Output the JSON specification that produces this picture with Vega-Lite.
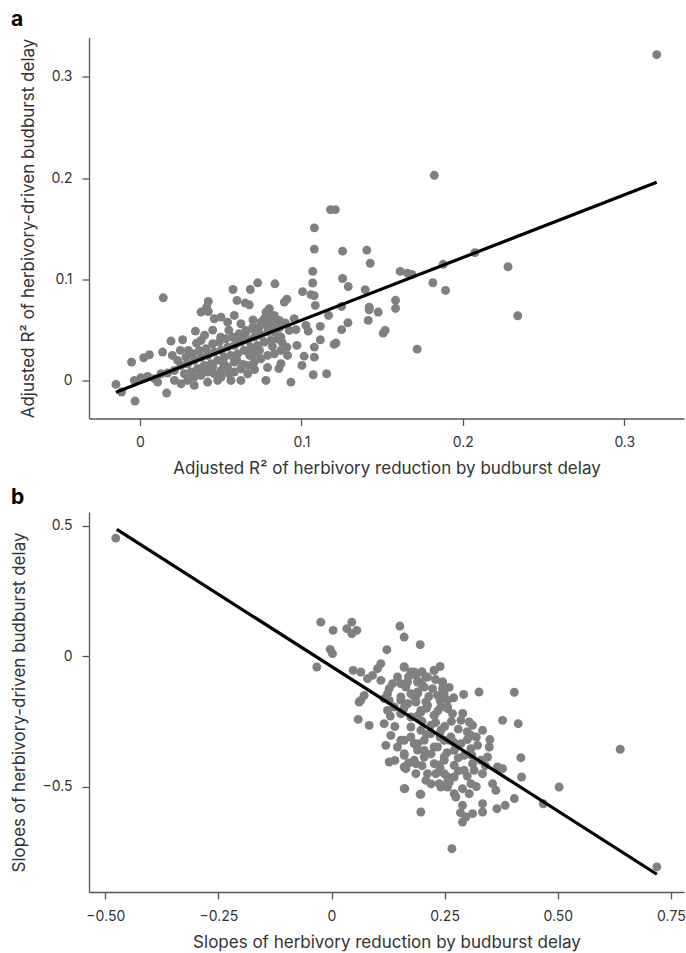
{
  "$schema": "https://vega.github.io/schema/vega-lite/v6.json",
  "background": "white",
  "padding": {"left": 10, "top": 8.5, "right": 2, "bottom": 2},
  "spacing": 10.5,
  "config": {
    "font": "Inter",
    "view": {"stroke": null},
    "axis": {
      "grid": false,
      "domainColor": "#555555",
      "domainWidth": 1.3,
      "tickColor": "#555555",
      "tickWidth": 1.3,
      "tickSize": 7,
      "labelFont": "Inter",
      "labelFontSize": 14,
      "labelColor": "#333333",
      "labelPadding": 10,
      "titleFont": "Inter",
      "titleFontSize": 17,
      "titleFontWeight": "normal",
      "titleColor": "#333333"
    },
    "axisX": {"titlePadding": 11},
    "axisY": {"titlePadding": 13},
    "title": {"font": "Inter", "fontSize": 21, "fontWeight": "bold", "color": "black", "anchor": "start", "frame": "group"}
  },
  "datasets": {
    "a_points": [
      {"x": -0.0149, "y": -0.0036}, {"x": -0.0114, "y": -0.0112}, {"x": -0.0031, "y": -0.0201}, {"x": -0.0052, "y": 0.0184},
      {"x": 0.0023, "y": 0.0227}, {"x": 0.0058, "y": 0.0257}, {"x": 0.0144, "y": 0.0819}, {"x": 0.014, "y": 0.0283},
      {"x": 0.0192, "y": 0.0392}, {"x": 0.0264, "y": 0.0405}, {"x": 0.0343, "y": 0.049}, {"x": 0.0378, "y": 0.0398},
      {"x": 0.0165, "y": -0.0122},
      {"x": 0.0423, "y": 0.0783}, {"x": 0.0413, "y": 0.0727}, {"x": 0.0423, "y": 0.0684}, {"x": 0.0576, "y": 0.0901},
      {"x": 0.0683, "y": 0.0901}, {"x": 0.0729, "y": 0.0967}, {"x": 0.0836, "y": 0.0957}, {"x": 0.0601, "y": 0.0793},
      {"x": 0.0652, "y": 0.0767}, {"x": 0.0677, "y": 0.075}, {"x": 0.0801, "y": 0.0711}, {"x": 0.078, "y": 0.0678},
      {"x": 0.0832, "y": 0.0645}, {"x": 0.0852, "y": 0.0595}, {"x": 0.077, "y": 0.0612},
      {"x": 0.0378, "y": 0.0678}, {"x": 0.046, "y": 0.0612}, {"x": 0.0502, "y": 0.0628}, {"x": 0.0543, "y": 0.0579},
      {"x": 0.0584, "y": 0.0645}, {"x": 0.0625, "y": 0.0563}, {"x": 0.0656, "y": 0.0497}, {"x": 0.0698, "y": 0.053},
      {"x": 0.0739, "y": 0.0464}, {"x": 0.0791, "y": 0.053}, {"x": 0.0832, "y": 0.048}, {"x": 0.0863, "y": 0.0431},
      {"x": 0.0213, "y": 0.0102}, {"x": 0.0254, "y": 0.0151}, {"x": 0.0295, "y": 0.0168}, {"x": 0.0336, "y": 0.0201},
      {"x": 0.0378, "y": 0.0234}, {"x": 0.0419, "y": 0.025}, {"x": 0.046, "y": 0.0283}, {"x": 0.0502, "y": 0.0299},
      {"x": 0.0543, "y": 0.0332}, {"x": 0.0584, "y": 0.0349}, {"x": 0.0625, "y": 0.0382}, {"x": 0.0667, "y": 0.0398},
      {"x": 0.0708, "y": 0.0431}, {"x": 0.0749, "y": 0.0447}, {"x": 0.0791, "y": 0.048}, {"x": 0.0832, "y": 0.0497},
      {"x": 0.0863, "y": 0.0523}, {"x": 0.0233, "y": 0.0201}, {"x": 0.0285, "y": 0.0234}, {"x": 0.0326, "y": 0.0266},
      {"x": 0.0367, "y": 0.0299}, {"x": 0.0409, "y": 0.0316}, {"x": 0.045, "y": 0.0365}, {"x": 0.0491, "y": 0.0382},
      {"x": 0.0533, "y": 0.0415}, {"x": 0.0574, "y": 0.0431}, {"x": 0.0615, "y": 0.0464}, {"x": 0.0656, "y": 0.048},
      {"x": 0.0698, "y": 0.0513}, {"x": 0.0739, "y": 0.053}, {"x": 0.078, "y": 0.0563}, {"x": 0.0821, "y": 0.0579},
      {"x": 0.0863, "y": 0.0595}, {"x": 0.0275, "y": 0.0069}, {"x": 0.0316, "y": 0.0086}, {"x": 0.0357, "y": 0.0118},
      {"x": 0.0398, "y": 0.0151}, {"x": 0.044, "y": 0.0168}, {"x": 0.0481, "y": 0.0201}, {"x": 0.0522, "y": 0.0234},
      {"x": 0.0563, "y": 0.025}, {"x": 0.0605, "y": 0.0266}, {"x": 0.0646, "y": 0.0299}, {"x": 0.0687, "y": 0.0332},
      {"x": 0.0729, "y": 0.0349}, {"x": 0.077, "y": 0.0382}, {"x": 0.0811, "y": 0.0398}, {"x": 0.0852, "y": 0.0415},
      {"x": -0.0035, "y": 0.0003}, {"x": 0.0006, "y": 0.003}, {"x": 0.0047, "y": 0.0043}, {"x": 0.0089, "y": 0.002},
      {"x": 0.013, "y": 0.0069}, {"x": 0.0171, "y": 0.0076}, {"x": 0.0109, "y": -0.0013}, {"x": 0.0213, "y": 0.0003},
      {"x": 0.0254, "y": -0.003}, {"x": 0.0295, "y": 0.0003}, {"x": 0.0336, "y": 0.0036}, {"x": 0.0378, "y": 0.0053},
      {"x": 0.0419, "y": -0.0013}, {"x": 0.046, "y": 0.0069}, {"x": 0.0502, "y": 0.0102}, {"x": 0.0543, "y": 0.0135},
      {"x": 0.0584, "y": 0.0086}, {"x": 0.0625, "y": 0.0118}, {"x": 0.0667, "y": 0.0151}, {"x": 0.0708, "y": 0.0184},
      {"x": 0.0749, "y": 0.0217}, {"x": 0.0791, "y": 0.025}, {"x": 0.0832, "y": 0.0266}, {"x": 0.0873, "y": 0.0299},
      {"x": 0.0378, "y": 0.0118}, {"x": 0.0481, "y": 0.0003}, {"x": 0.0563, "y": 0.0003}, {"x": 0.0667, "y": 0.0069},
      {"x": 0.078, "y": 0.0003}, {"x": 0.0584, "y": 0.0184}, {"x": 0.0708, "y": 0.0266}, {"x": 0.0419, "y": 0.0086},
      {"x": 0.0502, "y": 0.0036}, {"x": 0.0336, "y": -0.0046}, {"x": 0.0625, "y": 0.0003},
      {"x": 0.03, "y": 0.03}, {"x": 0.035, "y": 0.037}, {"x": 0.04, "y": 0.045}, {"x": 0.045, "y": 0.05},
      {"x": 0.05, "y": 0.043}, {"x": 0.055, "y": 0.05}, {"x": 0.06, "y": 0.04}, {"x": 0.065, "y": 0.045},
      {"x": 0.07, "y": 0.06}, {"x": 0.075, "y": 0.058}, {"x": 0.08, "y": 0.062}, {"x": 0.085, "y": 0.055},
      {"x": 0.09, "y": 0.057}, {"x": 0.045, "y": 0.014}, {"x": 0.052, "y": 0.016}, {"x": 0.06, "y": 0.02},
      {"x": 0.068, "y": 0.025}, {"x": 0.074, "y": 0.03}, {"x": 0.082, "y": 0.034}, {"x": 0.088, "y": 0.038},
      {"x": 0.02, "y": 0.025}, {"x": 0.025, "y": 0.03}, {"x": 0.055, "y": 0.007}, {"x": 0.064, "y": 0.016},
      {"x": 0.071, "y": 0.011}, {"x": 0.079, "y": 0.013}, {"x": 0.086, "y": 0.012},
      {"x": 0.118, "y": 0.169}, {"x": 0.121, "y": 0.169}, {"x": 0.108, "y": 0.151}, {"x": 0.108, "y": 0.13},
      {"x": 0.1255, "y": 0.128}, {"x": 0.1405, "y": 0.129}, {"x": 0.1426, "y": 0.116}, {"x": 0.107, "y": 0.108},
      {"x": 0.1255, "y": 0.101}, {"x": 0.107, "y": 0.0965}, {"x": 0.129, "y": 0.093}, {"x": 0.1007, "y": 0.088},
      {"x": 0.1059, "y": 0.085}, {"x": 0.1079, "y": 0.084}, {"x": 0.091, "y": 0.0806}, {"x": 0.0894, "y": 0.0777},
      {"x": 0.1086, "y": 0.0744}, {"x": 0.1395, "y": 0.09}, {"x": 0.1249, "y": 0.0734}, {"x": 0.1168, "y": 0.0645},
      {"x": 0.0955, "y": 0.0613}, {"x": 0.142, "y": 0.0727}, {"x": 0.142, "y": 0.0701}, {"x": 0.1476, "y": 0.0678},
      {"x": 0.1583, "y": 0.0794}, {"x": 0.1583, "y": 0.0714}, {"x": 0.1612, "y": 0.108}, {"x": 0.1657, "y": 0.1063},
      {"x": 0.1684, "y": 0.105}, {"x": 0.1878, "y": 0.115}, {"x": 0.1814, "y": 0.0968}, {"x": 0.1893, "y": 0.0892},
      {"x": 0.2074, "y": 0.1265}, {"x": 0.228, "y": 0.1126}, {"x": 0.234, "y": 0.0642}, {"x": 0.1717, "y": 0.0312},
      {"x": 0.1414, "y": 0.0596}, {"x": 0.1288, "y": 0.0573}, {"x": 0.1117, "y": 0.0537}, {"x": 0.1028, "y": 0.0546},
      {"x": 0.1042, "y": 0.049}, {"x": 0.1507, "y": 0.047}, {"x": 0.1519, "y": 0.0497}, {"x": 0.1249, "y": 0.0504},
      {"x": 0.1203, "y": 0.0359}, {"x": 0.1214, "y": 0.0372}, {"x": 0.1117, "y": 0.0405}, {"x": 0.108, "y": 0.0332},
      {"x": 0.108, "y": 0.0233}, {"x": 0.1017, "y": 0.0243}, {"x": 0.1003, "y": 0.0151}, {"x": 0.1073, "y": 0.0059},
      {"x": 0.1156, "y": 0.0069}, {"x": 0.0935, "y": -0.0014}, {"x": 0.0972, "y": 0.0349}, {"x": 0.091, "y": 0.0332},
      {"x": 0.0914, "y": 0.025}, {"x": 0.0873, "y": 0.0168}, {"x": 0.0873, "y": 0.0431}, {"x": 0.0924, "y": 0.0497},
      {"x": 0.0966, "y": 0.0504},
      {"x": 0.3201, "y": 0.322}, {"x": 0.1823, "y": 0.2029}
    ],
    "a_line": [{"x": -0.0149, "y": -0.0113}, {"x": 0.3201, "y": 0.196}],
    "b_points": [
      {"x": -0.4769, "y": 0.452}, {"x": -0.0237, "y": 0.13}, {"x": 0.0035, "y": 0.0985}, {"x": -0.003, "y": 0.0257},
      {"x": 0.0022, "y": 0.0092}, {"x": -0.0325, "y": -0.042}, {"x": 0.0449, "y": 0.13}, {"x": 0.0338, "y": 0.105},
      {"x": 0.0559, "y": 0.0985}, {"x": 0.0449, "y": 0.0858}, {"x": 0.151, "y": 0.115}, {"x": 0.1605, "y": 0.0728},
      {"x": 0.196, "y": 0.0437}, {"x": 0.1222, "y": 0.0245}, {"x": 0.404, "y": -0.139}, {"x": 0.326, "y": -0.138},
      {"x": 0.292, "y": -0.147}, {"x": 0.638, "y": -0.357}, {"x": 0.503, "y": -0.502}, {"x": 0.719, "y": -0.808},
      {"x": 0.266, "y": -0.738}, {"x": 0.468, "y": -0.566}, {"x": 0.404, "y": -0.546},
      {"x": 0.0478, "y": -0.0548}, {"x": 0.0648, "y": -0.0612}, {"x": 0.0795, "y": -0.0867}, {"x": 0.0906, "y": -0.0739},
      {"x": 0.1016, "y": -0.0484}, {"x": 0.109, "y": -0.0292}, {"x": 0.109, "y": -0.0931}, {"x": 0.0648, "y": -0.1697},
      {"x": 0.0721, "y": -0.1506}, {"x": 0.0611, "y": -0.1761}, {"x": 0.0589, "y": -0.2425}, {"x": 0.0832, "y": -0.2655},
      {"x": 0.1163, "y": -0.2591},
      {"x": 0.1606, "y": -0.042}, {"x": 0.1753, "y": -0.0612}, {"x": 0.1864, "y": -0.074}, {"x": 0.1458, "y": -0.0803},
      {"x": 0.1348, "y": -0.1059}, {"x": 0.1274, "y": -0.125}, {"x": 0.1532, "y": -0.1059}, {"x": 0.1679, "y": -0.0995},
      {"x": 0.1937, "y": -0.0995}, {"x": 0.2122, "y": -0.0803}, {"x": 0.2269, "y": -0.0548}, {"x": 0.2453, "y": -0.0995},
      {"x": 0.249, "y": -0.1569}, {"x": 0.2564, "y": -0.2016}, {"x": 0.1237, "y": -0.208}, {"x": 0.1274, "y": -0.1697},
      {"x": 0.1385, "y": -0.1952}, {"x": 0.1532, "y": -0.2208}, {"x": 0.1679, "y": -0.1825}, {"x": 0.1864, "y": -0.1697},
      {"x": 0.1974, "y": -0.208}, {"x": 0.2122, "y": -0.1888}, {"x": 0.2269, "y": -0.2272}, {"x": 0.2416, "y": -0.1952},
      {"x": 0.2564, "y": -0.1697}, {"x": 0.12, "y": -0.3421}, {"x": 0.1311, "y": -0.3038}, {"x": 0.1532, "y": -0.3229},
      {"x": 0.1458, "y": -0.3485}, {"x": 0.1606, "y": -0.374}, {"x": 0.1753, "y": -0.3102}, {"x": 0.1901, "y": -0.3357},
      {"x": 0.2048, "y": -0.3613}, {"x": 0.2195, "y": -0.2974}, {"x": 0.2343, "y": -0.3485}, {"x": 0.249, "y": -0.3868},
      {"x": 0.2601, "y": -0.3229}, {"x": 0.1274, "y": -0.4059}, {"x": 0.1606, "y": -0.4251}, {"x": 0.1864, "y": -0.4123},
      {"x": 0.2122, "y": -0.4506}, {"x": 0.238, "y": -0.4187}, {"x": 0.2564, "y": -0.4634}, {"x": 0.1606, "y": -0.5081},
      {"x": 0.1959, "y": -0.5298}, {"x": 0.2416, "y": -0.5017}, {"x": 0.2564, "y": -0.4825}, {"x": 0.1163, "y": -0.1633},
      {"x": 0.1237, "y": -0.1442}, {"x": 0.1532, "y": -0.1569}, {"x": 0.1753, "y": -0.1442}, {"x": 0.1901, "y": -0.1378},
      {"x": 0.2048, "y": -0.1186}, {"x": 0.2232, "y": -0.125}, {"x": 0.2343, "y": -0.1506}, {"x": 0.2453, "y": -0.125},
      {"x": 0.1606, "y": -0.042}, {"x": 0.1827, "y": -0.0611}, {"x": 0.1901, "y": -0.0994}, {"x": 0.2085, "y": -0.0803},
      {"x": 0.2269, "y": -0.0547}, {"x": 0.2453, "y": -0.0994}, {"x": 0.249, "y": -0.1441}, {"x": 0.1643, "y": -0.1186},
      {"x": 0.1532, "y": -0.1697}, {"x": 0.1901, "y": -0.1441}, {"x": 0.378, "y": -0.2463}, {"x": 0.4126, "y": -0.2591},
      {"x": 0.1679, "y": -0.1824}, {"x": 0.1864, "y": -0.176}, {"x": 0.2085, "y": -0.176}, {"x": 0.1532, "y": -0.2207},
      {"x": 0.1753, "y": -0.2335}, {"x": 0.1974, "y": -0.2144}, {"x": 0.2269, "y": -0.2271}, {"x": 0.2564, "y": -0.1952},
      {"x": 0.2674, "y": -0.2207}, {"x": 0.2859, "y": -0.2463}, {"x": 0.3043, "y": -0.2527}, {"x": 0.3117, "y": -0.2654},
      {"x": 0.3338, "y": -0.2846}, {"x": 0.308, "y": -0.3037}, {"x": 0.1753, "y": -0.2718}, {"x": 0.1974, "y": -0.2846},
      {"x": 0.2195, "y": -0.2654}, {"x": 0.2416, "y": -0.2846}, {"x": 0.2638, "y": -0.3101}, {"x": 0.2859, "y": -0.3357},
      {"x": 0.308, "y": -0.3548}, {"x": 0.3227, "y": -0.3421}, {"x": 0.3485, "y": -0.3484}, {"x": 0.3448, "y": -0.3867},
      {"x": 0.3669, "y": -0.4251}, {"x": 0.378, "y": -0.4314}, {"x": 0.4185, "y": -0.3893}, {"x": 0.42, "y": -0.4634},
      {"x": 0.1606, "y": -0.3229}, {"x": 0.1827, "y": -0.3357}, {"x": 0.2048, "y": -0.3229}, {"x": 0.2269, "y": -0.3484},
      {"x": 0.249, "y": -0.3229}, {"x": 0.2711, "y": -0.3612}, {"x": 0.2932, "y": -0.3804}, {"x": 0.3117, "y": -0.4123},
      {"x": 0.3301, "y": -0.3995}, {"x": 0.2932, "y": -0.4378}, {"x": 0.3153, "y": -0.4378}, {"x": 0.3338, "y": -0.4506},
      {"x": 0.3559, "y": -0.4889}, {"x": 0.3632, "y": -0.5145}, {"x": 0.1606, "y": -0.3804}, {"x": 0.1827, "y": -0.3995},
      {"x": 0.2048, "y": -0.3867}, {"x": 0.2269, "y": -0.4123}, {"x": 0.249, "y": -0.3995}, {"x": 0.2711, "y": -0.4187},
      {"x": 0.249, "y": -0.4506}, {"x": 0.2711, "y": -0.4634}, {"x": 0.1643, "y": -0.4314}, {"x": 0.1864, "y": -0.4506},
      {"x": 0.2085, "y": -0.4761}, {"x": 0.2306, "y": -0.4506}, {"x": 0.238, "y": -0.4889}, {"x": 0.2564, "y": -0.5017},
      {"x": 0.2711, "y": -0.5272}, {"x": 0.2895, "y": -0.5081}, {"x": 0.308, "y": -0.4889}, {"x": 0.3043, "y": -0.5272},
      {"x": 0.162, "y": -0.5081}, {"x": 0.1974, "y": -0.5298}, {"x": 0.1974, "y": -0.5975}, {"x": 0.2748, "y": -0.54},
      {"x": 0.2895, "y": -0.5719}, {"x": 0.3338, "y": -0.5655}, {"x": 0.3338, "y": -0.5975}, {"x": 0.3117, "y": -0.6038},
      {"x": 0.2969, "y": -0.6166}, {"x": 0.2895, "y": -0.6358}, {"x": 0.3655, "y": -0.5847}, {"x": 0.3839, "y": -0.5719},
      {"x": 0.17, "y": -0.08}, {"x": 0.2, "y": -0.11}, {"x": 0.23, "y": -0.09}, {"x": 0.26, "y": -0.12},
      {"x": 0.18, "y": -0.15}, {"x": 0.215, "y": -0.155}, {"x": 0.24, "y": -0.17}, {"x": 0.27, "y": -0.16},
      {"x": 0.16, "y": -0.2}, {"x": 0.19, "y": -0.23}, {"x": 0.21, "y": -0.2}, {"x": 0.235, "y": -0.21},
      {"x": 0.265, "y": -0.25}, {"x": 0.29, "y": -0.22}, {"x": 0.2, "y": -0.25}, {"x": 0.23, "y": -0.255},
      {"x": 0.25, "y": -0.27}, {"x": 0.28, "y": -0.28}, {"x": 0.3, "y": -0.29}, {"x": 0.21, "y": -0.3},
      {"x": 0.24, "y": -0.31}, {"x": 0.27, "y": -0.33}, {"x": 0.3, "y": -0.32}, {"x": 0.32, "y": -0.31},
      {"x": 0.19, "y": -0.36}, {"x": 0.22, "y": -0.375}, {"x": 0.255, "y": -0.37}, {"x": 0.28, "y": -0.39},
      {"x": 0.31, "y": -0.38}, {"x": 0.17, "y": -0.41}, {"x": 0.2, "y": -0.42}, {"x": 0.24, "y": -0.43},
      {"x": 0.28, "y": -0.44}, {"x": 0.3, "y": -0.46}, {"x": 0.22, "y": -0.49}, {"x": 0.26, "y": -0.485},
      {"x": 0.32, "y": -0.5}, {"x": 0.14, "y": -0.27}, {"x": 0.13, "y": -0.23}, {"x": 0.35, "y": -0.32},
      {"x": 0.34, "y": -0.42}, {"x": 0.285, "y": -0.6}, {"x": 0.14, "y": -0.4}, {"x": 0.2, "y": -0.06},
      {"x": 0.24, "y": -0.04}
    ],
    "b_line": [{"x": -0.4746, "y": 0.4854}, {"x": 0.719, "y": -0.836}]
  },
  "vconcat": [
    {
      "width": 595,
      "height": 381,
      "title": {"text": "a", "dx": -78, "offset": 8},
      "layer": [
        {
          "data": {"name": "a_points"},
          "mark": {"type": "circle", "size": 80, "color": "#808080", "opacity": 1},
          "encoding": {
            "x": {"field": "x", "type": "quantitative",
              "scale": {"domain": [-0.0316, 0.337], "nice": false, "zero": false},
              "axis": {"values": [0, 0.1, 0.2, 0.3], "labelExpr": "datum.value === 0 ? '0' : format(datum.value, '.1f')",
                "title": "Adjusted R² of herbivory reduction by budburst delay"}},
            "y": {"field": "y", "type": "quantitative",
              "scale": {"domain": [-0.0373, 0.339], "nice": false, "zero": false},
              "axis": {"values": [0, 0.1, 0.2, 0.3], "labelExpr": "datum.value === 0 ? '0' : format(datum.value, '.1f')",
                "title": "Adjusted R² of herbivory-driven budburst delay"}}
          }
        },
        {
          "data": {"name": "a_line"},
          "mark": {"type": "line", "color": "black", "strokeWidth": 3.2},
          "encoding": {
            "x": {"field": "x", "type": "quantitative"},
            "y": {"field": "y", "type": "quantitative"}
          }
        }
      ]
    },
    {
      "width": 595,
      "height": 380,
      "title": {"text": "b", "dx": -78, "offset": 4},
      "layer": [
        {
          "data": {"name": "b_points"},
          "mark": {"type": "circle", "size": 80, "color": "#808080", "opacity": 1},
          "encoding": {
            "x": {"field": "x", "type": "quantitative",
              "scale": {"domain": [-0.536, 0.779], "nice": false, "zero": false},
              "axis": {"values": [-0.5, -0.25, 0, 0.25, 0.5, 0.75], "labelExpr": "datum.value === 0 ? '0' : format(datum.value, '.2f')",
                "title": "Slopes of herbivory reduction by budburst delay"}},
            "y": {"field": "y", "type": "quantitative",
              "scale": {"domain": [-0.904, 0.552], "nice": false, "zero": false},
              "axis": {"values": [-0.5, 0, 0.5], "labelExpr": "datum.value === 0 ? '0' : format(datum.value, '.1f')",
                "title": "Slopes of herbivory-driven budburst delay"}}
          }
        },
        {
          "data": {"name": "b_line"},
          "mark": {"type": "line", "color": "black", "strokeWidth": 3.2},
          "encoding": {
            "x": {"field": "x", "type": "quantitative"},
            "y": {"field": "y", "type": "quantitative"}
          }
        }
      ]
    }
  ]
}
